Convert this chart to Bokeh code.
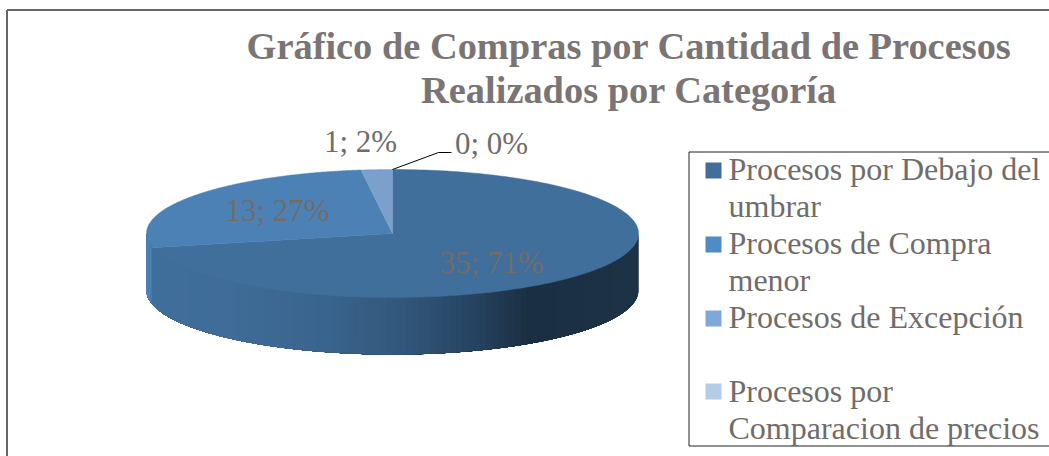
from bokeh.plotting import figure
from bokeh.models import Range1d
from bokeh.core.properties import value
from bokeh.embed import file_html
from bokeh.resources import INLINE
import numpy as np

title_lines = ["Gráfico de Compras por Cantidad de Procesos", "Realizados por Categoría"]
categories = ["Procesos por Debajo del umbrar", "Procesos de Compra menor",
              "Procesos de Excepción", "Procesos por Comparacion de precios"]
values = [35, 13, 1, 0]
percents = [71, 27, 2, 0]
colors = ["#416f9c", "#4c81b5", "#7ba0cc", "#b5cbe6"]
legend_colors = ["#416f9c", "#4f8bc4", "#7fa8d8", "#b5cbe6"]

TXT = "#716c6a"
SERIF = value("Liberation Serif")
CX, CY, RX, RY, DEPTH = 392, 233, 246, 64, 57

p = figure(width=1049, height=456, output_backend="svg", toolbar_location=None,
           x_range=Range1d(0, 1049), y_range=Range1d(456, 0),
           x_axis_type=None, y_axis_type=None, min_border=0,
           background_fill_color="white", border_fill_color="white", outline_line_color=None)
p.grid.visible = False

# outer frame
p.line([6.5, 6.5], [456, 9.5], line_color="#666666", line_width=2)
p.line([6.5, 1049], [9.5, 9.5], line_color="#666666", line_width=2)

def ex(t): return CX + RX*np.sin(t)
def ey(t): return CY - RY*np.cos(t)

fr = np.cumsum([0] + values) / sum(values) * 2*np.pi

# side wall gradient: painted right to left, each strip reaching under the next
stops_x = [146, 150, 152, 230, 330, 400, 470, 530, 638]
stops_c = [(0x4c,0x81,0xb5), (0x4c,0x81,0xb5), (0x41,0x6f,0x9c), (0x3f,0x6c,0x98), (0x39,0x64,0x8d),
           (0x33,0x58,0x7c), (0x27,0x45,0x62), (0x1b,0x2f,0x42), (0x1e,0x33,0x47)]
ts = np.linspace(np.pi/2, 3*np.pi/2, 121)
for a, b in zip(ts[:-1], ts[1:]):
    xm = (ex(a)+ex(b))/2
    c = [int(np.interp(xm, stops_x, [s[i] for s in stops_c])) for i in range(3)]
    col = "#%02x%02x%02x" % tuple(c)
    t = np.linspace(a, 3*np.pi/2, 40)
    xs = np.r_[ex(t), ex(t[::-1])]
    ys = np.r_[ey(t), ey(t[::-1])+DEPTH]
    p.patch(xs, ys, fill_color=col, line_color=None)

# top face
for i, v in enumerate(values):
    if v == 0:
        continue
    t = np.linspace(fr[i], fr[i+1], 200)
    p.patch(np.r_[CX, ex(t)], np.r_[CY, ey(t)], fill_color=colors[i], line_color=colors[i], line_width=0.5)

# data labels
lab = [(491, 262), (277, 210), (360, 141), (491, 143)]
for (x, y), v, pc in zip(lab, values, percents):
    p.text([x], [y], text=[f"{v}; {pc}%"], text_font=SERIF, text_font_size="31px",
           text_color=TXT, text_align="center", text_baseline="middle")
p.line([392, 438, 451], [169, 152, 152], line_color="black", line_width=1)

# title
for y, s in zip([45, 89], title_lines):
    p.text([628.5], [y], text=[s], text_font=SERIF, text_font_size="38.4px", text_font_style="bold",
           text_color="#7a7574", text_align="center", text_baseline="middle")

# legend
p.line([1049, 688.5, 688.5, 1049], [151.5, 151.5, 445.5, 445.5], line_color="#222222", line_width=1)
leg_lines = [["Procesos por Debajo del", "umbrar"], ["Procesos de Compra", "menor"],
             ["Procesos de Excepción", ""], ["Procesos por", "Comparacion de precios"]]
ys = [168, 205, 242, 279, 316, 353, 390, 427]
marks = [170, 244, 318, 391]
for i, (ls, c) in enumerate(zip(leg_lines, legend_colors)):
    p.quad(left=[705], right=[721], top=[marks[i]-8], bottom=[marks[i]+8], fill_color=c, line_color=None)
    for j, s in enumerate(ls):
        if s:
            p.text([728], [ys[2*i+j]], text=[s], text_font=SERIF, text_font_size="32px",
                   text_color=TXT, text_align="left", text_baseline="middle")

open("out.html", "w").write(file_html(p, INLINE))
